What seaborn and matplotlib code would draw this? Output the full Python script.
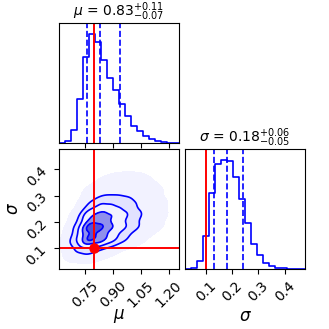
import numpy as np
import pandas as pd
import matplotlib
matplotlib.use("Agg")
import matplotlib.pyplot as plt
from matplotlib.colors import ListedColormap
from matplotlib.ticker import MaxNLocator
import seaborn as sns

# parameter ranges shown on the axes
mu_range = (0.611, 1.254)
sigma_range = (0.021, 0.477)

# marginal posterior histograms, 20 bins each (relative counts)
mu_counts = [1, 5, 40, 132, 258, 327, 302, 250, 195, 160,
             118, 80, 52, 35, 22, 12, 6, 3, 1, 0]
sigma_counts = [0, 2, 25, 98, 225, 310, 323, 320, 273, 208,
                137, 75, 40, 18, 8, 4, 2, 1, 0, 0]

# 16 / 50 / 84 percent quantiles and true values
mu_q = [0.76, 0.83, 0.94]
sigma_q = [0.13, 0.18, 0.24]
mu_true = 0.80
sigma_true = 0.10

# coarse joint counts: rows = sigma cells (low -> high), cols = mu cells
joint_counts = [
    [0, 0, 1, 0, 0, 0, 0, 0, 0, 0],
    [1, 20, 30, 12, 3, 0, 0, 0, 0, 0],
    [2, 50, 200, 150, 70, 25, 6, 1, 0, 0],
    [0, 25, 210, 180, 110, 60, 25, 8, 2, 0],
    [0, 5, 100, 140, 110, 65, 30, 12, 3, 1],
    [0, 0, 20, 55, 50, 40, 20, 9, 3, 1],
    [0, 0, 4, 10, 14, 14, 8, 5, 2, 0],
    [0, 0, 0, 2, 3, 4, 3, 2, 1, 0],
    [0, 0, 0, 0, 1, 1, 1, 1, 0, 0],
    [0, 0, 0, 0, 0, 0, 0, 0, 0, 0],
]

mu_title = r"$\mu$ = $0.83_{-0.07}^{+0.11}$"
sigma_title = r"$\sigma$ = $0.18_{-0.05}^{+0.06}$"

BLUE = "#0000ff"
RED = "#ff0000"

fig = plt.figure(figsize=(3.29, 3.29), dpi=100)
ax_mu = fig.add_axes([0.1793, 0.5653, 0.3647, 0.3647])
ax_2d = fig.add_axes([0.1793, 0.1824, 0.3647, 0.3647])
ax_sig = fig.add_axes([0.5623, 0.1824, 0.3647, 0.3647])


def draw_hist(ax, counts, rng, quants, truth, title):
    edges = np.linspace(rng[0], rng[1], len(counts) + 1)
    df = pd.DataFrame({"x": 0.5 * (edges[:-1] + edges[1:]), "n": counts})
    sns.histplot(data=df, x="x", weights="n", bins=len(counts), binrange=rng,
                 element="step", fill=False, color=BLUE, linewidth=1.2, ax=ax)
    for q in quants:
        ax.axvline(q, color=BLUE, ls="--", lw=1.2)
    ax.axvline(truth, color=RED, lw=1.4)
    ax.set_xlim(rng)
    ax.set_ylim(0, 1.1 * max(counts))
    ax.set_yticks([])
    ax.set_ylabel("")
    ax.set_xlabel("")
    ax.xaxis.set_major_locator(MaxNLocator(5, prune="lower"))
    ax.set_title(title, fontsize=10, pad=2)


draw_hist(ax_mu, mu_counts, mu_range, mu_q, mu_true, mu_title)
ax_mu.set_xticklabels([])

draw_hist(ax_sig, sigma_counts, sigma_range, sigma_q, sigma_true, sigma_title)

# joint panel from the coarse grid
mu_edges = np.linspace(mu_range[0], mu_range[1], 11)
sig_edges = np.linspace(sigma_range[0], sigma_range[1], 11)
mu_c = 0.5 * (mu_edges[:-1] + mu_edges[1:])
sig_c = 0.5 * (sig_edges[:-1] + sig_edges[1:])
mm, ss = np.meshgrid(mu_c, sig_c)
w = np.array(joint_counts, dtype=float).ravel()
keep = w > 0
jx, jy, jw = mm.ravel()[keep], ss.ravel()[keep], w[keep]

fill_cmap = ListedColormap(["#f2f2ff", "#e2e2ff", "#d4d4fc", "#f2f2fe",
                            "#d0d0f6", "#9090ec", "#5050dc"])
sns.kdeplot(x=jx, y=jy, weights=jw, fill=True,
            levels=[0.01, 0.04, 0.085, 0.135, 0.325, 0.607, 0.882, 1.0],
            cmap=fill_cmap, bw_adjust=0.58, ax=ax_2d)
sns.kdeplot(x=jx, y=jy, weights=jw, fill=False,
            levels=[0.135, 0.325, 0.607, 0.882], color=BLUE,
            linewidths=1.2, bw_adjust=0.58, ax=ax_2d)
ax_2d.axvline(mu_true, color=RED, lw=1.4)
ax_2d.axhline(sigma_true, color=RED, lw=1.4)
ax_2d.plot(mu_true, sigma_true, "o", color=RED, ms=6.5)
ax_2d.set_xlim(mu_range)
ax_2d.set_ylim(sigma_range)
ax_2d.xaxis.set_major_locator(MaxNLocator(5, prune="lower"))
ax_2d.yaxis.set_major_locator(MaxNLocator(5, prune="lower"))
ax_2d.set_xlabel(r"$\mu$", fontsize=12)
ax_2d.set_ylabel(r"$\sigma$", fontsize=12)
ax_2d.xaxis.set_label_coords(0.5, -0.32)
ax_2d.yaxis.set_label_coords(-0.31, 0.5)

ax_sig.set_xlabel(r"$\sigma$", fontsize=12)
ax_sig.xaxis.set_label_coords(0.5, -0.32)

for ax in (ax_2d, ax_sig):
    for lab in ax.get_xticklabels():
        lab.set_rotation(45)
    ax.tick_params(labelsize=10)
for lab in ax_2d.get_yticklabels():
    lab.set_rotation(45)

fig.savefig("out.png", dpi=100)
